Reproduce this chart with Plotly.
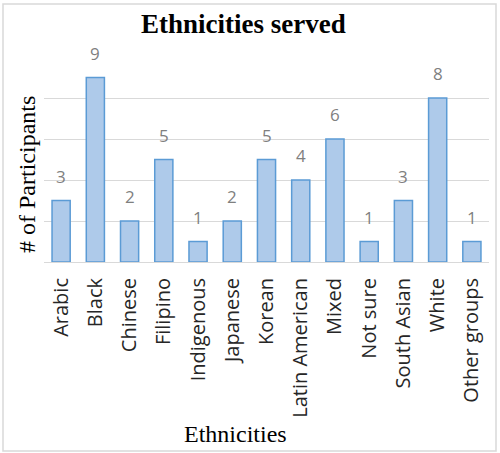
import plotly.graph_objects as go

categories = ["Arabic", "Black", "Chinese", "Filipino", "Indigenous", "Japanese",
              "Korean", "Latin American", "Mixed", "Not sure", "South Asian",
              "White", "Other groups"]
participants = [3, 9, 2, 5, 1, 2, 5, 4, 6, 1, 3, 8, 1]

W, H = 500, 453
L, R, T, B = 44, 11, 57, 191  # plot area spans x 44..489, y 57..262

sans = "'Open Sans', Calibri, sans-serif"
serif = "'Liberation Serif', 'Times New Roman', serif"

fig = go.Figure()
fig.add_trace(go.Bar(
    x=categories, y=participants,
    marker=dict(color="#AECAEA", line=dict(color="#5B9BD5", width=1.5)),
    hoverinfo="x+y",
))

# value labels above each bar
for c, v in zip(categories, participants):
    fig.add_annotation(x=c, y=v, text=str(v), showarrow=False,
                       yanchor="bottom", yshift=11,
                       font=dict(family=sans, size=17, color="#7F7F7F"))

def px_x(p):
    return (p - L) / (W - L - R)

def px_y(p):
    return (H - B - p) / (H - T - B)

# chart frame
fig.add_shape(type="rect", xref="paper", yref="paper",
              x0=px_x(3), x1=px_x(496), y0=px_y(451), y1=px_y(4),
              line=dict(color="#D9D9D9", width=1.5), layer="below")

fig.add_annotation(xref="paper", yref="paper", x=px_x(243), y=px_y(24),
                   xanchor="center", yanchor="middle",
                   text="<b>Ethnicities served</b>", showarrow=False,
                   font=dict(family=serif, size=27, color="black"))
fig.add_annotation(xref="paper", yref="paper", x=px_x(27), y=px_y(175),
                   xanchor="center", yanchor="middle",
                   text="# of Participants", showarrow=False, textangle=-90,
                   font=dict(family=serif, size=24, color="black"))
fig.add_annotation(xref="paper", yref="paper", x=px_x(235), y=px_y(434),
                   xanchor="center", yanchor="middle",
                   text="Ethnicities", showarrow=False,
                   font=dict(family=serif, size=24, color="black"))

fig.update_layout(
    width=W, height=H,
    margin=dict(l=L, r=R, t=T, b=B, pad=0),
    paper_bgcolor="white", plot_bgcolor="white",
    bargap=0.47, showlegend=False,
    xaxis=dict(tickangle=-90, showgrid=False, showline=True, linecolor="#D9D9D9",
               linewidth=1, ticks="outside", ticklen=7, tickcolor="rgba(0,0,0,0)",
               tickfont=dict(family=sans, size=20, color="#262626")),
    yaxis=dict(range=[0, 10], dtick=2, showgrid=True, gridcolor="#D9D9D9", gridwidth=1,
               showticklabels=False, zeroline=False, showline=False, ticks=""),
)

fig.write_html("out.html")
